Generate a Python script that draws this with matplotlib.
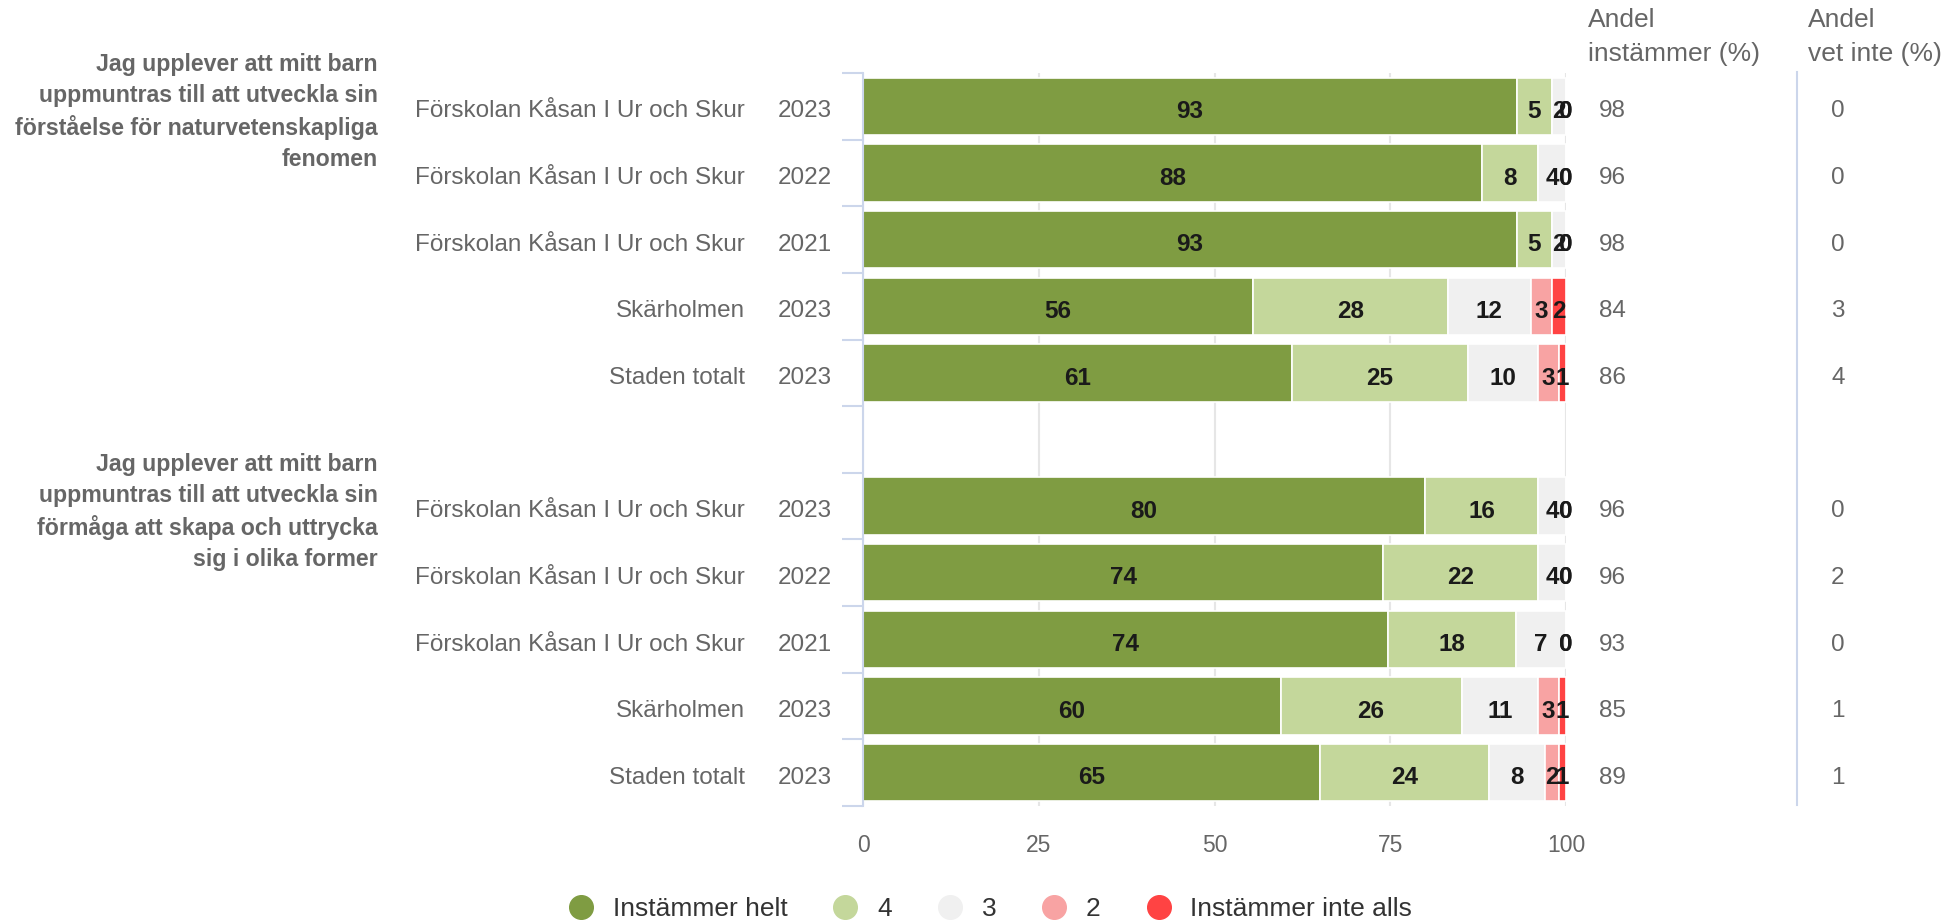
import numpy as np
import matplotlib.pyplot as plt
from matplotlib import transforms
from matplotlib.lines import Line2D

plt.rcParams['font.family'] = ['Liberation Sans', 'DejaVu Sans']

# question texts (one per group)
questions = [
    "Jag upplever att mitt barn\nuppmuntras till att utveckla sin\nförståelse för naturvetenskapliga\nfenomen",
    "Jag upplever att mitt barn\nuppmuntras till att utveckla sin\nförmåga att skapa och uttrycka\nsig i olika former",
]
units = ["Förskolan Kåsan I Ur och Skur", "Förskolan Kåsan I Ur och Skur",
         "Förskolan Kåsan I Ur och Skur", "Skärholmen", "Staden totalt"]
years = ["2023", "2022", "2021", "2023", "2023"]

# answer shares, 5 rows per question
helt = [93, 88, 93, 56, 61, 80, 74, 74, 60, 65]
fyra = [5, 8, 5, 28, 25, 16, 22, 18, 26, 24]
tre = [2, 4, 2, 12, 10, 4, 4, 7, 11, 8]
tva = [0, 0, 0, 3, 3, 0, 0, 0, 3, 2]
inte = [0, 0, 0, 2, 1, 0, 0, 0, 1, 1]
andel_inst = [98, 96, 98, 84, 86, 96, 96, 93, 85, 89]
andel_vet = [0, 0, 0, 3, 4, 0, 2, 0, 1, 1]

series_names = ["Instämmer helt", "4", "3", "2", "Instämmer inte alls"]
colors = ["#7f9c42", "#c4d79b", "#f0f0f0", "#f8a3a3", "#ff4343"]

W, H = 1959, 923
fig = plt.figure(figsize=(W / 100, H / 100), dpi=100)
ax = fig.add_axes([863 / W, 1 - 806 / H, (1566 - 863) / W, (806 - 73) / H])

vals = np.array([helt, fyra, tre, tva, inte], dtype=float)
vals = vals / vals.sum(axis=0) * 100  # bars fill to 100
raw = np.array([helt, fyra, tre, tva, inte])

ypos = [g * 6 + i for g in range(2) for i in range(5)]
dy = 0.04  # labels sit a touch below the bar centre

left = np.zeros(len(ypos))
for k in range(5):
    ax.barh(ypos, vals[k], left=left, height=0.86, color=colors[k],
            edgecolor='white', linewidth=1.2, zorder=2)
    for j, y in enumerate(ypos):
        ax.text(left[j] + vals[k][j] / 2, y + dy, str(raw[k][j]), ha='center',
                va='center_baseline', fontsize=17.5, fontweight='bold', color='#1a1a1a', zorder=3)
    left += vals[k]

ax.set_xlim(0, 100)
ax.set_ylim(10.5, -0.5)
ax.set_xticks([0, 25, 50, 75, 100])
ax.grid(axis='x', color='#e6e6e6', linewidth=1.5)
ax.set_axisbelow(True)
ax.set_yticks(np.arange(-0.5, 11, 1))
ax.tick_params(axis='y', length=15, width=1.5, color='#ccd6eb', labelleft=False)
ax.tick_params(axis='x', length=0, labelsize=16.5, labelcolor='#666666', pad=20)
for s in ['top', 'right', 'bottom']:
    ax.spines[s].set_visible(False)
ax.spines['left'].set_color('#ccd6eb')
ax.spines['left'].set_linewidth(1.5)

trans = transforms.blended_transform_factory(fig.transFigure, ax.transData)
for g in range(2):
    ax.text(378 / W, g * 6 - 0.5 - 0.3, questions[g], transform=trans, ha='right', va='top',
            fontsize=16.7, fontweight='bold', color='#666666', linespacing=1.43)
    for i in range(5):
        y = g * 6 + i + dy
        ax.text(745 / W, y, units[i], transform=trans, ha='right', va='center_baseline',
                fontsize=17.5, color='#666666')
        ax.text(832 / W, y, years[i], transform=trans, ha='right', va='center_baseline',
                fontsize=17.5, color='#666666')
        ax.text(1599 / W, y, str(andel_inst[g * 5 + i]), transform=trans, ha='left',
                va='center_baseline', fontsize=17.5, color='#666666')
        ax.text(1831 / W, y, str(andel_vet[g * 5 + i]), transform=trans, ha='left',
                va='center_baseline', fontsize=17.5, color='#666666')

# separator line for the last column
fig.add_artist(Line2D([1797 / W, 1797 / W], [1 - 72 / H, 1 - 805 / H],
                      color='#ccd6eb', linewidth=1.5))

fig.text(1588 / W, 1 - 8 / H, "Andel\ninstämmer (%)", ha='left', va='top',
         fontsize=19, color='#666666', linespacing=1.52)
fig.text(1808 / W, 1 - 8 / H, "Andel\nvet inte (%)", ha='left', va='top',
         fontsize=19, color='#666666', linespacing=1.52)

handles = [Line2D([], [], marker='o', linestyle='none', markersize=17,
                  markerfacecolor=c, markeredgecolor=c) for c in colors]
fig.legend(handles, series_names, loc='center', bbox_to_anchor=(990 / W, 1 - 909 / H),
           ncol=5, frameon=False, fontsize=19, labelcolor='#333333',
           handlelength=1, handletextpad=0.7, columnspacing=1.7)

fig.savefig('out.png', dpi=100)
